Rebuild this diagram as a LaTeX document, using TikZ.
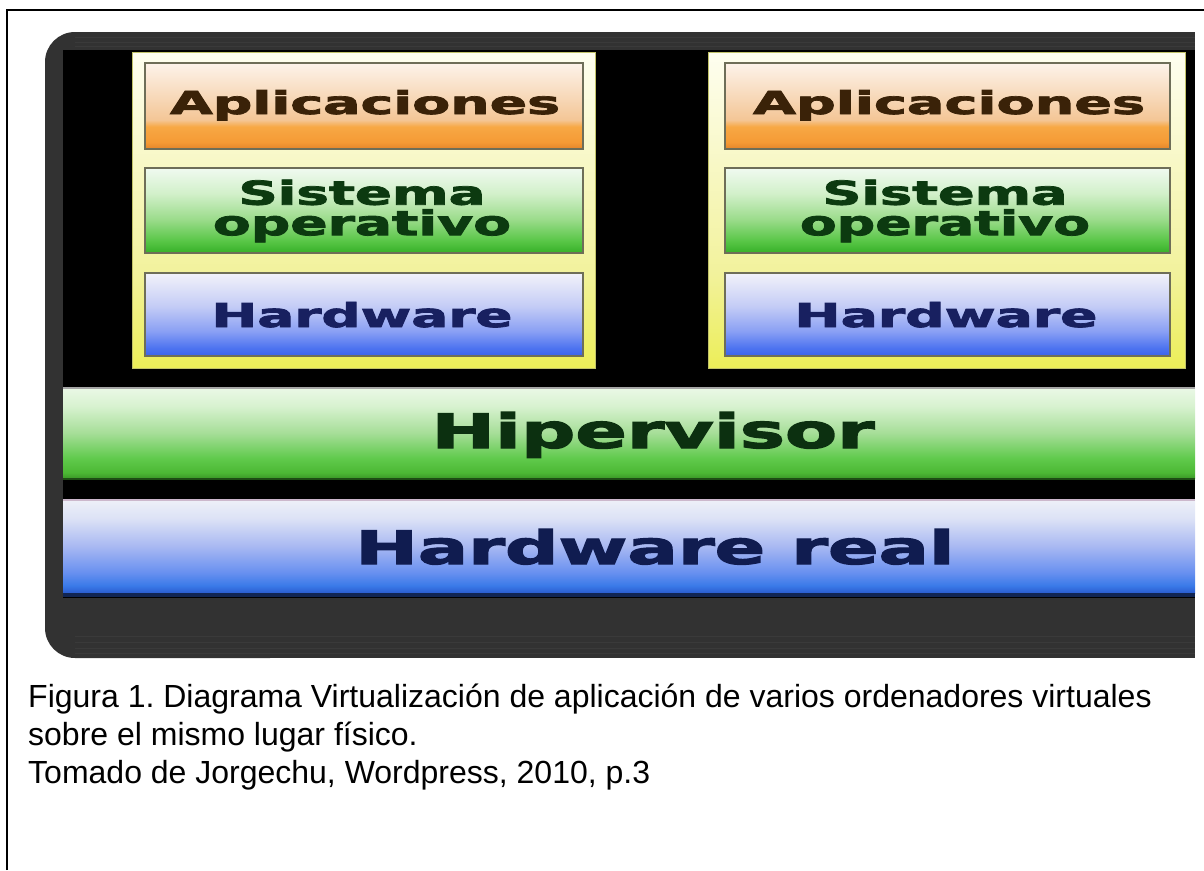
\documentclass[tikz,border=0pt]{standalone}
\usepackage{fontspec}
\setmainfont{Liberation Sans}
\newfontfamily\boxfont{DejaVu Sans}[BoldFeatures={FakeBold=2.2}]
\usepackage{graphicx}
\frenchspacing

% layer colours
\definecolor{panelgray}{HTML}{323232}
\definecolor{panelline}{HTML}{3A3A3A}
\definecolor{layeredge}{HTML}{6E6E58}
\definecolor{appText}{HTML}{3A2208}
\definecolor{osText}{HTML}{0C3A10}
\definecolor{hwText}{HTML}{182060}
\definecolor{hvText}{HTML}{0C3010}
\definecolor{realText}{HTML}{101C50}

% orange layer
\definecolor{apA}{HTML}{E4842A}
\definecolor{apB}{HTML}{F59A35}
\definecolor{apC}{HTML}{F7A844}
\definecolor{apD}{HTML}{F4C696}
\definecolor{apE}{HTML}{F7D8B8}
\definecolor{apF}{HTML}{FDF3EA}
\pgfdeclareverticalshading{appshade}{100bp}{color(0bp)=(apA); color(25bp)=(apA); color(29bp)=(apB); color(38bp)=(apC); color(42bp)=(apD); color(55bp)=(apE); color(75bp)=(apF); color(100bp)=(apF)}

% green layer
\definecolor{osA}{HTML}{36B028}
\definecolor{osB}{HTML}{58C646}
\definecolor{osC}{HTML}{9CDC8C}
\definecolor{osD}{HTML}{D2F0CA}
\definecolor{osE}{HTML}{F0FAF0}
\pgfdeclareverticalshading{osshade}{100bp}{color(0bp)=(osA); color(25bp)=(osA); color(32bp)=(osB); color(45bp)=(osC); color(60bp)=(osD); color(75bp)=(osE); color(100bp)=(osE)}

% blue layer
\definecolor{hwA}{HTML}{3A62EA}
\definecolor{hwB}{HTML}{4E74F0}
\definecolor{hwC}{HTML}{8AA0F4}
\definecolor{hwD}{HTML}{C4CCF6}
\definecolor{hwE}{HTML}{F2F2FA}
\pgfdeclareverticalshading{hwshade}{100bp}{color(0bp)=(hwA); color(25bp)=(hwA); color(30bp)=(hwB); color(40bp)=(hwC); color(55bp)=(hwD); color(75bp)=(hwE); color(100bp)=(hwE)}

% hypervisor bar
\definecolor{hvA}{HTML}{3C9A28}
\definecolor{hvB}{HTML}{4CB834}
\definecolor{hvC}{HTML}{60CA4C}
\definecolor{hvD}{HTML}{A6DE98}
\definecolor{hvE}{HTML}{D8F2D0}
\definecolor{hvF}{HTML}{EAF8E6}
\pgfdeclareverticalshading{hvshade}{100bp}{color(0bp)=(hvA); color(25bp)=(hvA); color(28bp)=(hvB); color(36bp)=(hvC); color(50bp)=(hvD); color(65bp)=(hvE); color(75bp)=(hvF); color(100bp)=(hvF)}

% physical hardware bar
\definecolor{rlA}{HTML}{2A5CD0}
\definecolor{rlB}{HTML}{3A7AE8}
\definecolor{rlC}{HTML}{6890F0}
\definecolor{rlD}{HTML}{A8B8F2}
\definecolor{rlE}{HTML}{DCE2F6}
\definecolor{rlF}{HTML}{EEF0F8}
\pgfdeclareverticalshading{rlshade}{100bp}{color(0bp)=(rlA); color(25bp)=(rlA); color(29bp)=(rlB); color(36bp)=(rlC); color(50bp)=(rlD); color(65bp)=(rlE); color(75bp)=(rlF); color(100bp)=(rlF)}

% virtual machine frame
\definecolor{frA}{HTML}{ECEE58}
\definecolor{frB}{HTML}{F2F29C}
\definecolor{frC}{HTML}{FEFEF0}
\pgfdeclareverticalshading{frameshade}{100bp}{color(0bp)=(frA); color(25bp)=(frA); color(40bp)=(frB); color(75bp)=(frC); color(100bp)=(frC)}

\begin{document}
\begin{tikzpicture}[x=1pt,y=-1pt,
  vmframe/.style={shading=frameshade, draw=frA!60!gray, line width=1pt},
  applayer/.style={shading=appshade, draw=layeredge, line width=2pt},
  oslayer/.style={shading=osshade, draw=layeredge, line width=2pt},
  hwlayer/.style={shading=hwshade, draw=layeredge, line width=2pt},
  label/.style={anchor=base, inner sep=0pt, font=\boxfont\bfseries},
  twoline/.style={anchor=center, inner sep=0pt, align=center, font=\boxfont\bfseries},
  caption/.style={anchor=base west, inner sep=0pt, font=\fontsize{32}{38}\selectfont}]

\useasboundingbox (0,0) rectangle (1204,870);

% page frame
\draw[line width=1.5pt] (7,870) -- (7,10) -- (1204,10);

% dark panel with rounded left corners
\fill[panelgray, rounded corners=30pt] (45,32) rectangle (300,658);
\fill[panelgray] (150,32) rectangle (1195,658);
\foreach \yy in {37,42,46} \draw[panelline, line width=1pt] (75,\yy) -- (1195,\yy);
\foreach \yy in {636,642,648,653} \draw[panelline, line width=1pt] (75,\yy) -- (1195,\yy);
\fill[black] (63,50) rectangle (1195,598);

% first virtual machine
\filldraw[vmframe] (132,52) rectangle (595,368);
\filldraw[applayer] (145,63) rectangle (583,149);
\filldraw[oslayer] (145,168) rectangle (583,253);
\filldraw[hwlayer] (145,273) rectangle (583,356);

% second virtual machine
\filldraw[vmframe] (708,52) rectangle (1185,368);
\filldraw[applayer] (725,63) rectangle (1170,149);
\filldraw[oslayer] (725,168) rectangle (1170,253);
\filldraw[hwlayer] (725,273) rectangle (1170,356);

% hypervisor and physical hardware
\fill[shading=hvshade] (63,388) rectangle (1195,478);
\draw[line width=2pt, color=hvA!50!black] (63,479) -- (1195,479);
\draw[line width=2pt, color=gray!70] (63,388) -- (1195,388);
\fill[shading=rlshade] (63,500) rectangle (1195,593);
\draw[line width=4pt, color=rlA!40!black] (63,595) -- (1195,595);
\draw[line width=2pt, color=gray!60!violet!40] (63,500) -- (1195,500);

% layer labels
\node[label, text=appText] (appL) at (365,114) {\resizebox{390pt}{24pt}{Aplicaciones}};
\node[twoline, text=osText] (osL) at (362,211) {\resizebox{247pt}{25pt}{Sistema}\\[3pt]\resizebox{298pt}{26pt}{operativo}};
\node[label, text=hwText] (hwL) at (362,327) {\resizebox{301pt}{25pt}{Hardware}};

\node[label, text=appText] (appR) at (949,114) {\resizebox{392pt}{24pt}{Aplicaciones}};
\node[twoline, text=osText] (osR) at (945,211) {\resizebox{245pt}{25pt}{Sistema}\\[3pt]\resizebox{290pt}{26pt}{operativo}};
\node[label, text=hwText] (hwR) at (946,327) {\resizebox{303pt}{25pt}{Hardware}};

\node[label, text=hvText] (hv) at (653,448) {\resizebox{443pt}{36pt}{Hipervisor}};
\node[label, text=realText] (real) at (655,564) {\resizebox{599pt}{35pt}{Hardware real}};

% caption
\node[caption] (cap1) at (28,707) {Figura 1. Diagrama Virtualización de aplicación de varios ordenadores virtuales};
\node[caption] (cap2) at (28,745) {sobre el mismo lugar físico.};
\node[caption] (cap3) at (28,783) {Tomado de Jorgechu, Wordpress, 2010, p.3};
\end{tikzpicture}
\end{document}
